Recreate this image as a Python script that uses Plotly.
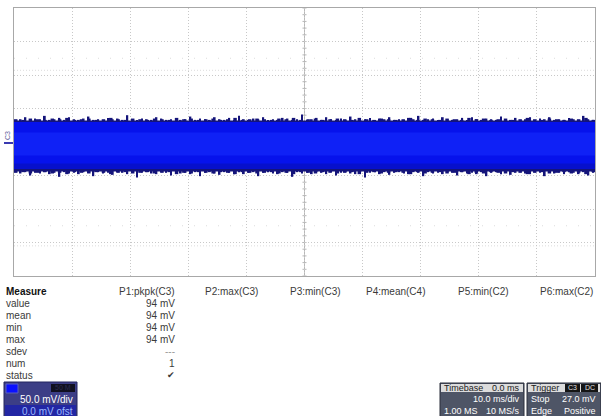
import numpy as np
import plotly.graph_objects as go

# ---------------- data ----------------
# time axis: 10 div x 10 ms/div, centred on trigger (ms); vertical: 8 div x 50 mV/div
x_range = [-50, 50]
y_range = [-200, 200]

# upper spike envelope of the C3 noise trace (mV), read left to right
top_edge = [33,34,37,33,35,34,39,33,34,36,33,37,34,33,35,38,33,34,33,36,34,35,33,40,34,33,35,34,33,37,
            35,33,34,36,33,34,38,33,35,34,33,37,34,33,36,33,39,34,33,35,34,37,33,34,33,36,35,33,34,41,
            33,34,36,33,37,34,33,35,33,38,34,33,34,36,33,35,34,37,33,34,33,36,34,39,33,34,35,33,37,34,
            33,34,36,33,37,34,33,35,34,33,38,34,33,36,33,34,37,33,35,34,37,33,34,33,36,34,33,39,34,33]
# secondary (denser, shorter) upper fringe (mV)
top_fringe = [34,33,35,34,33,35,34,36,33,34,35,33,34,36,34,33,35,34,33,35,34,33,36,34,35,33,34,35,33,34,
              36,33,34,35,34,33,35,34,36,33,34,35,33,34,35,34,33,36,34,33,35,34,33,34,36,33,35,34,33,35,
              34,33,36,34,35,33,34,35,33,34,36,34,33,35,34,33,35,34,36,33]
# lower spike envelope (mV)
bot_edge = [-45,-47,-45,-50,-46,-47,-45,-48,-46,-52,-45,-47,-46,-48,-45,-46,-51,-45,-47,-46,-49,-45,-46,-48,-45,-53,-46,-45,-47,-48,
            -45,-46,-50,-45,-47,-46,-48,-45,-51,-46,-45,-47,-49,-45,-46,-48,-45,-48,-46,-45,-51,-46,-45,-47,-48,-45,-46,-52,-45,-47,
            -46,-48,-45,-46,-48,-45,-50,-46,-45,-47,-48,-45,-53,-46,-45,-48,-45,-49,-46,-45,-47,-48,-45,-46,-51,-45,-47,-46,-48,-45,
            -46,-50,-45,-47,-46,-48,-45,-51,-46,-45,-48,-45,-49,-46,-45,-47,-48,-45,-46,-51,-45,-47,-46,-48,-45,-46,-48,-45,-50,-46]
# secondary lower fringe (mV)
bot_fringe = [-46,-45,-47,-46,-45,-47,-46,-48,-45,-46,-47,-45,-46,-48,-46,-45,-47,-46,-45,-47,-46,-45,-48,-46,-47,-45,-46,-47,-45,-46,
              -48,-45,-46,-47,-46,-45,-47,-46,-48,-45,-46,-47,-45,-46,-47,-46,-45,-48,-46,-45,-47,-46,-45,-46,-48,-45,-47,-46,-45,-47,
              -46,-45,-48,-46,-47,-45,-46,-47,-45,-46,-48,-46,-45,-47,-46,-45,-47,-46,-48,-45]
spike_top_base = 31.0
spike_bot_base = -43.0

# layered density bands of the trace (mV): [top, bottom]
outer_band = [32.0, -44.0]
core_band = [30.0, -40.0]
lower_shade = [-32.0, -40.0]
bright_band = [14.0, -20.0]

trigger_level = 27.0   # mV
trigger_pos = 0.0      # ms

measure_rows = ["value", "mean", "min", "max", "sdev", "num", "status"]
p1_values = ["94 mV", "94 mV", "94 mV", "94 mV", "---", "1", "\u2714"]
param_labels = ["P1:pkpk(C3)", "P2:max(C3)", "P3:min(C3)", "P4:mean(C4)", "P5:min(C2)", "P6:max(C2)"]

# ---------------- figure ----------------
W, H = 601, 416
L, R, T, B = 14, 6, 8, 140
FONT = "Liberation Sans, Arial, sans-serif"
NAVY = "#14147a"


def PX(x):
    return (x - L) / (W - L - R)


def PY(y):
    return (H - B - y) / (H - T - B)


fig = go.Figure()


def add_band(b, color):
    fig.add_trace(go.Scatter(x=[x_range[0], x_range[1], x_range[1], x_range[0]],
                             y=[b[0], b[0], b[1], b[1]], fill="toself", mode="lines",
                             line=dict(width=0), fillcolor=color, hoverinfo="skip", showlegend=False))


def add_spikes(vals, base, width):
    xs = np.linspace(x_range[0] + 0.3, x_range[1] - 0.3, len(vals))
    fig.add_trace(go.Bar(x=xs, y=np.array(vals) - base, base=base, width=width,
                         marker=dict(color=NAVY, line=dict(width=0)), hoverinfo="skip", showlegend=False))


add_band(outer_band, NAVY)
add_band(core_band, "#0612ec")
add_band(lower_shade, "#0710cc")
add_band(bright_band, "rgba(24,48,255,0.5)")

add_spikes(top_fringe, spike_top_base, 0.6)
add_spikes(bot_fringe, spike_bot_base, 0.6)
add_spikes(top_edge, spike_top_base, 0.3)
add_spikes(bot_edge, spike_bot_base, 0.3)

# trigger level marker (right edge) and trigger position marker (bottom)
fig.add_trace(go.Scatter(x=[x_range[1] + 0.6], y=[trigger_level], mode="markers", cliponaxis=False,
                         marker=dict(symbol="triangle-left", size=8, color="#1a2ad0"),
                         hoverinfo="skip", showlegend=False))
fig.add_trace(go.Scatter(x=[trigger_pos], y=[y_range[0] - 9], mode="markers", cliponaxis=False,
                         marker=dict(symbol="triangle-up", size=8, color="#1a2ad0"),
                         hoverinfo="skip", showlegend=False))

shapes = []
# centre cross with minor ticks
shapes.append(dict(type="line", xref="x", yref="y", x0=0, x1=0, y0=y_range[0], y1=y_range[1],
                   line=dict(color="#b8b8b8", width=1), layer="below"))
shapes.append(dict(type="line", xref="x", yref="y", x0=x_range[0], x1=x_range[1], y0=0, y1=0,
                   line=dict(color="#b8b8b8", width=1), layer="below"))
for yv in np.arange(y_range[0], y_range[1] + 0.1, 10):
    shapes.append(dict(type="line", xref="x", yref="y", x0=-0.35, x1=0.35, y0=yv, y1=yv,
                       line=dict(color="#b8b8b8", width=1), layer="below"))
for xv in np.arange(x_range[0], x_range[1] + 0.1, 2):
    shapes.append(dict(type="line", xref="x", yref="y", x0=xv, x1=xv, y0=-4, y1=4,
                       line=dict(color="#b8b8b8", width=1), layer="below"))
# faint extra dotted rows
for yv, dash in [(125, "1px,11px"), (107, "1px,2px"), (-125, "1px,11px"), (-155, "1px,2px")]:
    shapes.append(dict(type="line", xref="x", yref="y", x0=x_range[0], x1=x_range[1], y0=yv, y1=yv,
                       line=dict(color="#dcdcdc", width=1, dash=dash), layer="below"))

# ground marker C3 at left
shapes.append(dict(type="line", xref="paper", yref="paper", x0=PX(4), x1=PX(13), y0=PY(143), y1=PY(143),
                   line=dict(color="#3a3ab0", width=2)))

# channel box (bottom-left)
shapes.append(dict(type="rect", xref="paper", yref="paper", x0=PX(4), x1=PX(77), y0=PY(382), y1=PY(417),
                   fillcolor="#3c3e86", line=dict(color="#22245e", width=1)))
shapes.append(dict(type="rect", xref="paper", yref="paper", x0=PX(5), x1=PX(76), y0=PY(405), y1=PY(417),
                   fillcolor="#2226a4", line=dict(width=0)))
shapes.append(dict(type="rect", xref="paper", yref="paper", x0=PX(6), x1=PX(18), y0=PY(384), y1=PY(393),
                   fillcolor="#0a10ff", line=dict(color="#5a60c0", width=1)))
shapes.append(dict(type="rect", xref="paper", yref="paper", x0=PX(51), x1=PX(75), y0=PY(384), y1=PY(392),
                   fillcolor="#101020", line=dict(width=0)))

# timebase box
shapes.append(dict(type="rect", xref="paper", yref="paper", x0=PX(440), x1=PX(524), y0=PY(383), y1=PY(417),
                   fillcolor="#4e5566", line=dict(color="#2a2f3a", width=1)))
shapes.append(dict(type="rect", xref="paper", yref="paper", x0=PX(441), x1=PX(523), y0=PY(384), y1=PY(392),
                   fillcolor="#dcdcdc", line=dict(width=0)))
# trigger box
shapes.append(dict(type="rect", xref="paper", yref="paper", x0=PX(527), x1=PX(601), y0=PY(383), y1=PY(417),
                   fillcolor="#4e5566", line=dict(color="#2a2f3a", width=1)))
shapes.append(dict(type="rect", xref="paper", yref="paper", x0=PX(528), x1=PX(600), y0=PY(384), y1=PY(392),
                   fillcolor="#dcdcdc", line=dict(width=0)))
shapes.append(dict(type="rect", xref="paper", yref="paper", x0=PX(565), x1=PX(580), y0=PY(384), y1=PY(392),
                   fillcolor="#151515", line=dict(width=0)))
shapes.append(dict(type="rect", xref="paper", yref="paper", x0=PX(581), x1=PX(598), y0=PY(384), y1=PY(392),
                   fillcolor="#151515", line=dict(width=0)))

ann = []


def txt(x, y, s, anchor="left", size=10, color="#333333", bold=False):
    if bold:
        s = "<b>" + s + "</b>"
    ann.append(dict(x=PX(x), y=PY(y), xref="paper", yref="paper", text=s, showarrow=False,
                    xanchor=anchor, yanchor="middle", font=dict(family=FONT, size=size, color=color)))


# C3 rotated label
ann.append(dict(x=PX(7), y=PY(136), xref="paper", yref="paper", text="C3", showarrow=False, textangle=-90,
                xanchor="center", yanchor="middle", font=dict(family=FONT, size=7, color="#5a5a9a")))

# measure table
row0 = 291.7
step = 11.95
txt(4, row0, "Measure", bold=True, color="#111111")
right_cols = [177, 260, 343, 427, 511, 595]
for lab, xr in zip(param_labels, right_cols):
    txt(xr, row0, lab, anchor="right", color="#3a3a3a")
for i, (name, val) in enumerate(zip(measure_rows, p1_values)):
    y = row0 + step * (i + 1)
    txt(4, y, name, color="#3a3a3a")
    col = "#9a9a9a" if val == "---" else "#3a3a3a"
    txt(177, y, val, anchor="right", color=col, size=9 if val == "\u2714" else 10)

BS = 9
# channel box text
txt(75, 399.5, "50.0 mV/div", anchor="right", color="#ffffff", size=10)
txt(75, 411, "0.0 mV ofst", anchor="right", color="#9ab8ff", size=10)
txt(73, 388, "50 M", anchor="right", size=7, color="#2c2c50")

# timebase text
txt(442, 387.5, "Timebase", color="#222222", size=BS)
txt(522, 387.5, "0.0 ms", anchor="right", color="#222222", size=BS)
txt(522, 399, "10.0 ms/div", anchor="right", color="#ffffff", size=BS)
txt(442, 410.5, "1.00 MS", color="#ffffff", size=BS)
txt(522, 410.5, "10 MS/s", anchor="right", color="#ffffff", size=BS)

# trigger text
txt(529, 387.5, "Trigger", color="#222222", size=BS)
txt(572.5, 388, "C3", anchor="center", size=7, color="#e0e0e0")
txt(589.5, 388, "DC", anchor="center", size=7, color="#e0e0e0")
txt(529, 399, "Stop", color="#ffffff", size=BS)
txt(598, 399, "27.0 mV", anchor="right", color="#ffffff", size=BS)
txt(529, 410.5, "Edge", color="#ffffff", size=BS)
txt(598, 410.5, "Positive", anchor="right", color="#ffffff", size=BS)

fig.update_layout(
    width=W, height=H,
    margin=dict(l=L, r=R, t=T, b=B, pad=0),
    paper_bgcolor="white", plot_bgcolor="white",
    showlegend=False, hovermode=False, barmode="overlay",
    shapes=shapes, annotations=ann,
    xaxis=dict(range=x_range, dtick=10, tick0=-50, showticklabels=False, ticks="",
               showgrid=True, gridcolor="#c8c8c8", griddash="1px,2px", gridwidth=1,
               zeroline=False, showline=True, linecolor="#a8a8a8", linewidth=1, mirror=True, fixedrange=True),
    yaxis=dict(range=y_range, dtick=50, tick0=-200, showticklabels=False, ticks="",
               showgrid=True, gridcolor="#c8c8c8", griddash="1px,2px", gridwidth=1,
               zeroline=False, showline=True, linecolor="#a8a8a8", linewidth=1, mirror=True, fixedrange=True),
)

fig.write_html("out.html", config={"displayModeBar": False})
